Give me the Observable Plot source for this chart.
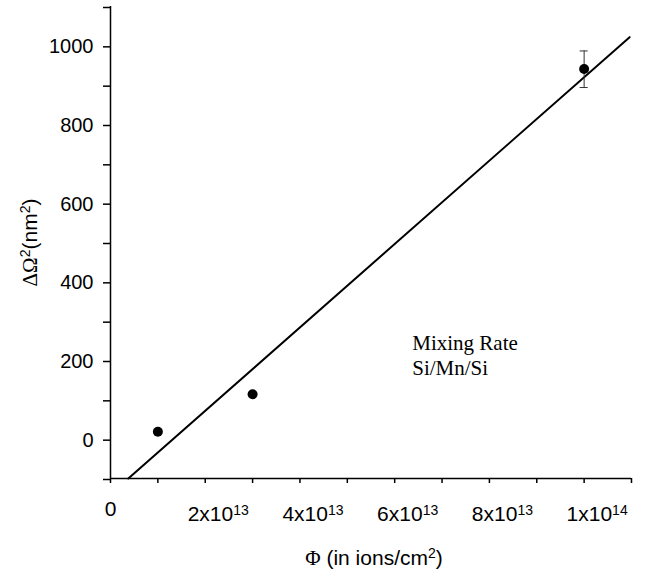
<!DOCTYPE html>
<html><head><meta charset="utf-8">
<script src="https://cdn.jsdelivr.net/npm/d3@7"></script>
<script src="https://cdn.jsdelivr.net/npm/@observablehq/plot@0.6"></script>
<style>body{margin:0;background:#fff}</style>
</head><body><div id="chart"></div>
<script>
// ---- data ----
const fluence = [1e13, 3e13, 1e14];          // ions/cm^2
const deltaOmega2 = [19, 114, 941];          // nm^2
const errLow = [null, null, 894];
const errHigh = [null, null, 987];
const fitFluence = [0.376e13, 10.96e13];     // fitted line end points
const fitValue = [-100, 1022];
const xTicks = d3.range(0, 12).map(d => d * 1e13);
const yTicks = d3.range(-100, 1101, 100);
const xTickLabelValues = [0, 2e13, 4e13, 6e13, 8e13, 1e14];
const xTickLabelTexts = ["0", "2x10^13", "4x10^13", "6x10^13", "8x10^13", "1x10^14"];
const yTickLabelValues = [0, 200, 400, 600, 800, 1000];
const annotation = "Mixing Rate\nSi/Mn/Si";
const xLabelParts = [["Φ", "serif"], [" (in ions/cm", ""], ["2", "sup"], [")", ""]];
const yLabelParts = [["Δ", "serif"], ["Ω", "serif"], ["2", "sup"], ["(nm", ""], ["2", "sup"], [")", ""]];
const xLabelPlain = xLabelParts.map(p => p[0]).join("");
const yLabelPlain = yLabelParts.map(p => p[0]).join("");

const points = fluence.map((x, i) => ({x, y: deltaOmega2[i], lo: errLow[i], hi: errHigh[i]}));
const errs = points.filter(d => d.lo != null);
const fit = fitFluence.map((x, i) => ({x, y: fitValue[i]}));
const capHalf = 0.085e13;

const plot = Plot.plot({
  width: 648, height: 573,
  marginLeft: 110, marginRight: 17, marginTop: 6, marginBottom: 95,
  x: {domain: [0, 11e13]},
  y: {domain: [-100, 1100]},
  style: {fontFamily: "'Liberation Sans', Arial, sans-serif", fontSize: "20px", color: "black", background: "white", overflow: "visible"},
  marks: [
    Plot.axisX({ticks: xTicks, tickSize: 5, tickPadding: 23, strokeWidth: 1.5, label: null, fontSize: 21,
      tickFormat: d => { const i = xTickLabelValues.findIndex(v => Math.abs(v - d) < 1e9); return i < 0 ? "" : xTickLabelTexts[i]; }}),
    Plot.axisY({ticks: yTicks, tickSize: 7, tickPadding: 10, strokeWidth: 1.5, label: null, fontSize: 20, dy: 1,
      tickFormat: d => yTickLabelValues.includes(d) ? String(d) : ""}),
    Plot.ruleX([0], {y1: -100, y2: 1100, strokeWidth: 1.5}),
    Plot.ruleY([-100], {x1: 0, x2: 11e13, strokeWidth: 1.5}),
    Plot.line(fit, {x: "x", y: "y", strokeWidth: 2, stroke: "black"}),
    Plot.ruleX(errs, {x: "x", y1: "lo", y2: "hi", stroke: "#333", strokeWidth: 1}),
    Plot.ruleY(errs, {y: "lo", x1: d => d.x - capHalf, x2: d => d.x + capHalf, stroke: "#333", strokeWidth: 1}),
    Plot.ruleY(errs, {y: "hi", x1: d => d.x - capHalf, x2: d => d.x + capHalf, stroke: "#333", strokeWidth: 1}),
    Plot.dot(points, {x: "x", y: "y", r: 5, fill: "black"}),
    Plot.text([annotation], {x: 6.37e13, y: 216, textAnchor: "start", lineAnchor: "middle", lineHeight: 1.19,
      fontFamily: "'Liberation Serif', 'Times New Roman', serif", fontSize: 21}),
    Plot.text([xLabelPlain], {frameAnchor: "bottom", textAnchor: "middle", lineAnchor: "middle", dx: 3, dy: 80, fontSize: 21}),
    Plot.text([yLabelPlain], {frameAnchor: "left", textAnchor: "middle", lineAnchor: "middle", dx: -80, rotate: -90, fontSize: 21})
  ]
});
document.getElementById("chart").appendChild(plot);

// ---- rich text (superscripts / serif glyphs) ----
const NS = "http://www.w3.org/2000/svg";
function rich(el, parts, supSize, raise, shift) {
  el.textContent = "";
  let raised = false, first = true;
  for (const [t, kind] of parts) {
    const ts = document.createElementNS(NS, "tspan");
    ts.textContent = t;
    if (first && shift) ts.setAttribute("dx", shift);
    first = false;
    if (kind === "sup") {
      ts.setAttribute("font-size", supSize);
      if (!raised) ts.setAttribute("dy", -raise);
      raised = true;
    } else {
      if (raised) ts.setAttribute("dy", raise);
      raised = false;
      if (kind === "serif") ts.setAttribute("font-family", "'Liberation Serif', 'Times New Roman', serif");
    }
    el.appendChild(ts);
  }
}
plot.querySelectorAll("text").forEach(el => {
  const s = el.textContent;
  if (s === xLabelPlain) rich(el, xLabelParts, 14, 7);
  else if (s === yLabelPlain) rich(el, yLabelParts, 14, 7);
});
plot.querySelectorAll('g[aria-label="x-axis tick label"] text').forEach(el => {
  const s = el.textContent;
  if (s.includes("^")) {
    const [m, e] = s.split("^");
    rich(el, [[m, ""], [e, "sup"]], 14, 6, 13);
  } else if (s === "0") {
    el.setAttribute("dy", "-5");
  }
});
</script></body></html>
